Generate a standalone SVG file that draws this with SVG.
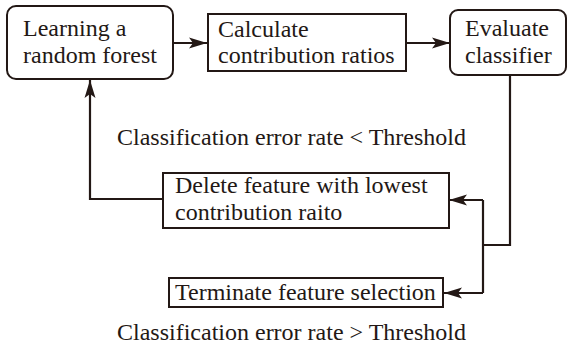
<svg xmlns="http://www.w3.org/2000/svg" width="568" height="358" viewBox="0 0 568 358">
  <style>
    .box { fill: #ffffff; stroke: #231815; stroke-width: 2; }
    .txt { font-family: "Liberation Serif", "Times New Roman", serif; font-size: 24px; fill: #231815; }
    .wire { fill: none; stroke: #231815; stroke-width: 2.2; }
  </style>
  <defs>
    <marker id="arrow" markerUnits="userSpaceOnUse" markerWidth="19" markerHeight="12" refX="18" refY="6" orient="auto">
      <path d="M0,0.5 L18,6 L0,11.5 L4,6 Z" fill="#231815"/>
    </marker>
  </defs>

  <rect width="568" height="358" fill="#ffffff"/>

  <!-- connectors -->
  <g id="connectors">
    <path class="wire" d="M173,43 H207" marker-end="url(#arrow)"/>
    <path class="wire" d="M406,43 H450" marker-end="url(#arrow)"/>
    <path class="wire" d="M163,199 H90 V80" marker-end="url(#arrow)"/>
    <path class="wire" d="M510,75 V245 H483"/>
    <path class="wire" d="M483,200 V293"/>
    <path class="wire" d="M483,200 H449" marker-end="url(#arrow)"/>
    <path class="wire" d="M483,293 H444" marker-end="url(#arrow)"/>
  </g>

  <!-- nodes -->
  <g id="learn-forest">
    <rect class="box" x="7" y="6" width="166" height="73" rx="9"/>
    <text class="txt" x="23" y="36">Learning a</text>
    <text class="txt" x="23" y="63">random forest</text>
  </g>

  <g id="calc-ratios">
    <rect class="box" x="208" y="14" width="198" height="57"/>
    <text class="txt" x="218" y="37">Calculate</text>
    <text class="txt" x="218" y="63">contribution ratios</text>
  </g>

  <g id="evaluate">
    <rect class="box" x="450" y="10" width="116" height="65" rx="8"/>
    <text class="txt" x="465" y="36">Evaluate</text>
    <text class="txt" x="465" y="63">classifier</text>
  </g>

  <g id="delete-feature">
    <rect class="box" x="163" y="173" width="286" height="55"/>
    <text class="txt" x="175" y="193">Delete feature with lowest</text>
    <text class="txt" x="175" y="220">contribution raito</text>
  </g>

  <g id="terminate">
    <rect class="box" x="169" y="278" width="274" height="29"/>
    <text class="txt" x="175" y="300">Terminate feature selection</text>
  </g>

  <!-- condition labels -->
  <g id="labels">
    <text class="txt" x="117" y="145">Classification error rate &lt; Threshold</text>
    <text class="txt" x="117" y="340">Classification error rate &gt; Threshold</text>
  </g>
</svg>
